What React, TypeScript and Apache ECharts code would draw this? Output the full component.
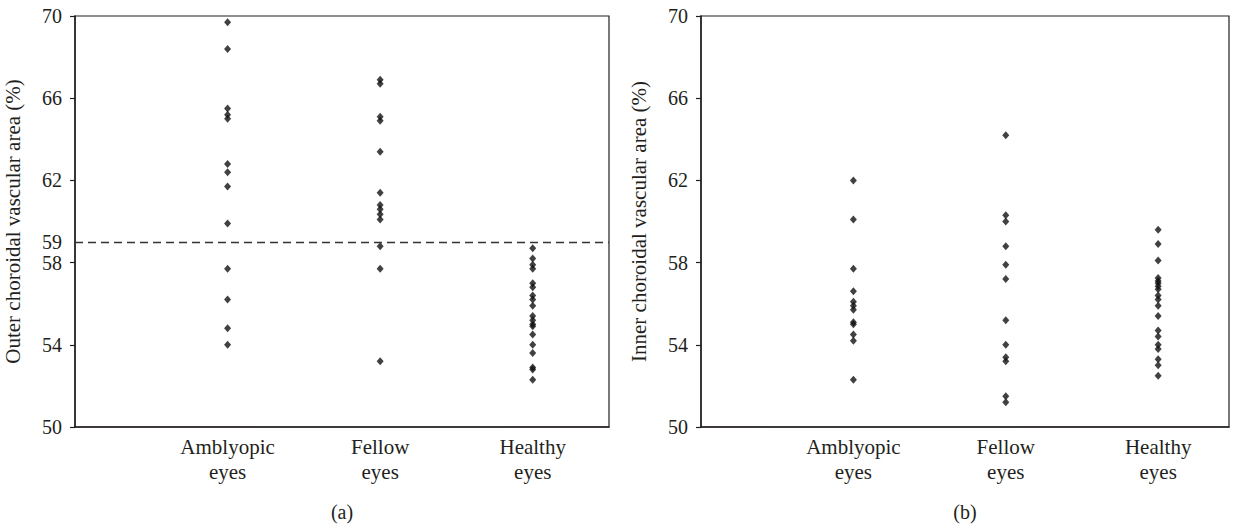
import React, { useEffect, useRef } from "react";
import * as echarts from "echarts";

const categories = ["Amblyopic\neyes", "Fellow\neyes", "Healthy\neyes"];
const yTicks = [50, 54, 58, 62, 66, 70];
const yLabelsOuter = [50, 54, 58, 59, 62, 66, 70];
const cutoff = 59;

const outerAmblyopic = [69.7, 68.4, 65.5, 65.2, 65.0, 62.8, 62.4, 61.7, 59.9, 57.7, 56.2, 54.8, 54.0];
const outerFellow = [66.9, 66.7, 65.1, 64.9, 63.4, 61.4, 60.8, 60.6, 60.35, 60.1, 58.8, 57.7, 53.2];
const outerHealthy = [58.7, 58.2, 57.9, 57.7, 57.0, 56.8, 56.4, 56.2, 55.9, 55.4, 55.2, 55.0, 54.9, 54.5, 54.0, 53.6, 52.9, 52.8, 52.3];

const innerAmblyopic = [62.0, 60.1, 57.7, 56.6, 56.1, 55.9, 55.7, 55.1, 55.0, 54.5, 54.2, 52.3];
const innerFellow = [64.2, 60.3, 60.0, 58.8, 57.9, 57.2, 55.2, 54.0, 53.4, 53.2, 51.5, 51.2];
const innerHealthy = [59.6, 58.9, 58.1, 57.25, 57.1, 57.0, 56.85, 56.7, 56.4, 56.2, 55.9, 55.4, 54.7, 54.4, 54.0, 53.8, 53.3, 53.0, 52.5];

const INK = "#231f20";
const DOT = "#111";
const FONT = "Liberation Serif";
const FS_TICK = 20;
const FS = 21;

function pts(xIndex: number, values: number[]) {
  return values.map((v) => [xIndex, v]);
}

export default function App() {
  const ref = useRef<HTMLDivElement>(null);
  useEffect(() => {
    if (!ref.current) return;
    const chart = echarts.init(ref.current, null, { renderer: "svg" });
    const xAxisBase = (gridIndex: number, max: number) => ({
      type: "value",
      gridIndex,
      min: 0,
      max,
      axisLine: { show: true, lineStyle: { color: INK, width: 1.5 } },
      axisTick: { show: false },
      splitLine: { show: false },
      axisLabel: {
        customValues: [1, 2, 3],
        formatter: (v: number) => categories[Math.round(v) - 1] ?? "",
        color: INK,
        fontFamily: FONT,
        fontSize: FS,
        lineHeight: 25,
        margin: 7,
      },
    });
    const yAxisBase = (gridIndex: number, name: string, labels: number[]) => ({
      type: "value",
      gridIndex,
      min: 50,
      max: 70,
      name,
      nameLocation: "middle",
      nameGap: 52,
      nameTextStyle: { color: INK, fontFamily: FONT, fontSize: FS },
      axisLine: { show: true, lineStyle: { color: INK, width: 1.5 } },
      axisTick: { show: true, customValues: yTicks, length: 5, lineStyle: { color: INK, width: 1.2 } },
      splitLine: { show: false },
      axisLabel: {
        customValues: labels,
        color: INK,
        fontFamily: FONT,
        fontSize: FS_TICK,
        margin: 13,
      },
    });
    const scatter = (xAxisIndex: number, data: number[][], extra: any = {}) => ({
      type: "scatter",
      xAxisIndex,
      yAxisIndex: xAxisIndex,
      data,
      symbol: "diamond",
      symbolSize: [7, 8],
      itemStyle: { color: DOT },
      ...extra,
    });
    chart.setOption({
      animation: false,
      grid: [
        { left: 75, top: 16, width: 534, height: 411, show: true, borderColor: INK, borderWidth: 1.2, backgroundColor: "transparent" },
        { left: 701, top: 16, width: 528, height: 411, show: true, borderColor: INK, borderWidth: 1.2, backgroundColor: "transparent" },
      ],
      xAxis: [xAxisBase(0, 3.5), xAxisBase(1, 3.465)],
      yAxis: [
        yAxisBase(0, "Outer choroidal vascular area (%)", yLabelsOuter),
        yAxisBase(1, "Inner choroidal vascular area (%)", yTicks),
      ],
      series: [
        scatter(0, pts(1, outerAmblyopic), {
          markLine: {
            silent: true,
            symbol: "none",
            label: { show: false },
            lineStyle: { color: "#333", type: [8, 5], width: 1.4 },
            data: [{ yAxis: cutoff }],
          },
        }),
        scatter(0, pts(2, outerFellow)),
        scatter(0, pts(3, outerHealthy)),
        scatter(1, pts(1, innerAmblyopic)),
        scatter(1, pts(2, innerFellow)),
        scatter(1, pts(3, innerHealthy)),
      ],
      graphic: [
        { type: "text", x: 342, y: 512, style: { text: "(a)", fill: INK, font: `${FS_TICK}px "${FONT}"`, textAlign: "center", textVerticalAlign: "middle" } },
        { type: "text", x: 965, y: 512, style: { text: "(b)", fill: INK, font: `${FS_TICK}px "${FONT}"`, textAlign: "center", textVerticalAlign: "middle" } },
      ],
    });
    return () => chart.dispose();
  }, []);
  return <div ref={ref} style={{ position: "fixed", left: 0, top: 0, width: 1234, height: 531, background: "#fff" }} />;
}
